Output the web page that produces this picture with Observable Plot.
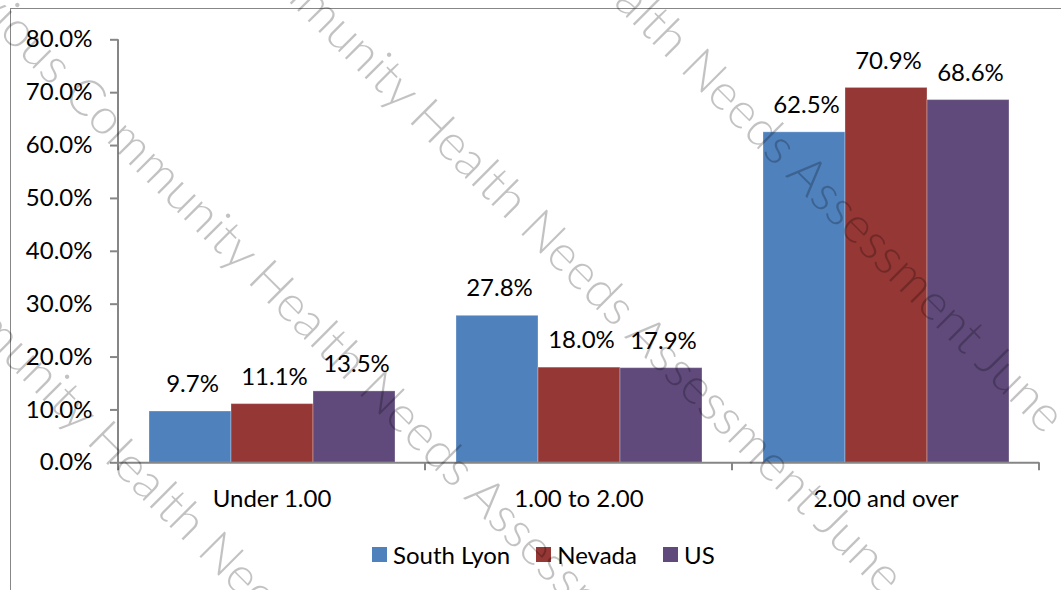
<!DOCTYPE html>
<html><head><meta charset="utf-8">
<script src="https://cdn.jsdelivr.net/npm/d3@7"></script>
<script src="https://cdn.jsdelivr.net/npm/@observablehq/plot@0.6"></script>
<style>
body{margin:0;background:#fff}
#wrap{position:relative;width:1061px;height:590px;overflow:hidden;background:#fff;font-family:Lato,"Open Sans",sans-serif}
#frame{position:absolute;left:10px;top:8px;width:1200px;height:800px;border-left:1.5px solid #878787;border-top:1.5px solid #878787;box-sizing:border-box}
#chart{position:absolute;left:0;top:0}
#legend{position:absolute;left:372px;top:538px}
.lg-swatches{font-family:Lato,sans-serif;font-size:24px;margin:0;min-height:33px;color:#000}
.lg-swatch{margin-right:26px}
.lg-swatch > svg{margin-right:6px}
#wm{position:absolute;left:0;top:0;pointer-events:none}
</style></head><body>
<div id="wrap"><div id="frame"></div><div id="chart"></div><div id="legend"></div><svg id="wm" width="1061" height="590"></svg></div>
<script>
// ---- data ----
const groups = ["Under 1.00", "1.00 to 2.00", "2.00 and over"];
const series = ["South Lyon", "Nevada", "US"];
const southLyon = [9.7, 27.8, 62.5];
const nevada = [11.1, 18.0, 70.9];
const us = [13.5, 17.9, 68.6];
const yTicks = [0, 10, 20, 30, 40, 50, 60, 70, 80];
const colors = ["#4F81BD", "#953735", "#604A7B"];
const watermark = ["Previous Community", "Health Needs Assessment June"];

const seriesValues = [southLyon, nevada, us];
const rows = groups.flatMap((g, i) => series.map((s, j) => ({group: g, series: s, value: seriesValues[j][i]})));
const pct = d => d.toFixed(1) + "%";

const chart = Plot.plot({
  width: 1061, height: 530,
  marginLeft: 118, marginRight: 22, marginTop: 39.3, marginBottom: 67.7,
  style: {fontFamily: "Lato, sans-serif", fontSize: "24px", color: "#000", background: "transparent", overflow: "visible"},
  fx: {domain: groups, padding: 0, label: null},
  x: {domain: series, paddingInner: 0, paddingOuter: 0.367, axis: null},
  y: {domain: [0, 80], label: null},
  color: {domain: series, range: colors},
  marks: [
    Plot.barY(rows, {fx: "group", x: "series", y: "value", fill: "series", stroke: "#fff", strokeOpacity: 0.3, strokeWidth: 1}),
    Plot.ruleY([0], {stroke: "#868686", strokeWidth: 2}),
    Plot.axisY({ticks: yTicks, tickFormat: pct, tickSize: 8, tickPadding: 18, stroke: "#868686", strokeWidth: 2, fill: "#000", label: null, fontSize: 24}),
    Plot.axisFx({anchor: "bottom", tickSize: 0, tickPadding: 27, label: null, fontSize: 24, fill: "#000"}),
    Plot.text(rows, {fx: "group", x: "series", y: "value", text: d => pct(d.value), dy: -27, dx: 2, fill: "#000", fontSize: 24})
  ]
});
document.getElementById("chart").appendChild(chart);

// axis line + category boundary ticks from the plot's own scales
const ys = chart.scale("y"), fs = chart.scale("fx");
const yS = d3.scaleLinear(ys.domain, ys.range);
const fxS = d3.scaleBand(fs.domain, fs.range)
  .paddingInner(fs.paddingInner || 0).paddingOuter(fs.paddingOuter || 0).align(fs.align ?? 0.5);
const edges = fs.domain.map(d => fxS(d)).concat([fxS(fs.domain[fs.domain.length - 1]) + fxS.bandwidth()]);
const g = d3.select(chart).append("g").attr("stroke", "#868686").attr("stroke-width", 2);
g.append("line").attr("x1", edges[0]).attr("x2", edges[0]).attr("y1", yS(0) + 1).attr("y2", yS(yTicks[yTicks.length - 1]));
g.selectAll("line.b").data(edges).join("line").attr("class", "b")
  .attr("x1", d => d).attr("x2", d => d).attr("y1", yS(0)).attr("y2", yS(0) + 8);

// legend
const legend = Plot.legend({legend: "swatches", color: {domain: series, range: colors}, swatchSize: 15, className: "lg"});
document.getElementById("legend").appendChild(legend);

// watermark
const wmAnchors = [[85, 442], [246, 281], [407, 120], [568, -41]];
const wm = d3.select("#wm");
for (const [x, y] of wmAnchors) {
  const t = wm.append("g").attr("transform", `translate(${x},${y}) rotate(45)`)
    .attr("fill", "rgba(0,0,0,0.24)").attr("font-family", "Lato, sans-serif")
    .attr("font-weight", 300).attr("font-size", 50);
  t.append("text").attr("text-anchor", "end").attr("dx", "-0.22em").text(watermark[0]);
  t.append("text").text(watermark[1]);
}
</script>
</body></html>
